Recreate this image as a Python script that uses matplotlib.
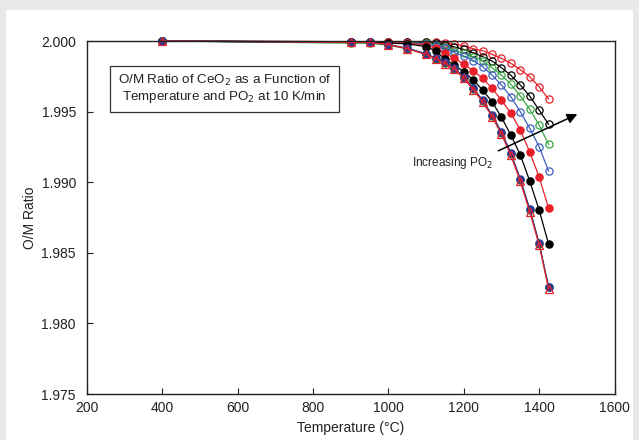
import matplotlib
matplotlib.use("Agg")
import matplotlib.pyplot as plt
from matplotlib.patches import Rectangle

plt.rcParams['font.family'] = ['Liberation Sans', 'DejaVu Sans']

T = [400, 900, 950, 1000, 1050, 1100, 1125, 1150, 1175, 1200, 1225, 1250,
     1275, 1300, 1325, 1350, 1375, 1400, 1425]

red_open = [2.0000, 1.99995, 1.99995, 1.99995, 1.99995, 1.99995, 1.99992, 1.99988,
            1.99977, 1.99967, 1.99945, 1.99931, 1.99906, 1.99877, 1.99842, 1.99797,
            1.99747, 1.99676, 1.99589]
black_open = [2.0000, 1.99995, 1.99995, 1.99995, 1.99993, 1.99990, 1.99985, 1.99975,
              1.99958, 1.99940, 1.99917, 1.99889, 1.99858, 1.99811, 1.99757, 1.99688,
              1.99610, 1.99511, 1.99410]
green_open = [2.0000, 1.99990, 1.99990, 1.99990, 1.99988, 1.99983, 1.99972, 1.99955,
              1.99931, 1.99913, 1.99889, 1.99858, 1.99811, 1.99759, 1.99693, 1.99610,
              1.99516, 1.99405, 1.99268]
blue_open = [2.0000, 1.99992, 1.99992, 1.99990, 1.99987, 1.99980, 1.99967, 1.99948,
             1.99917, 1.99894, 1.99861, 1.99818, 1.99759, 1.99688, 1.99605, 1.99499,
             1.99382, 1.99252, 1.99079]
red_filled = [2.0000, 1.99992, 1.99992, 1.99990, 1.99985, 1.99972, 1.99950, 1.99913,
              1.99877, 1.99835, 1.99790, 1.99736, 1.99665, 1.99582, 1.99488, 1.99370,
              1.99214, 1.99037, 1.98817]
black_filled = [2.0000, 1.99990, 1.99990, 1.99985, 1.99980, 1.99960, 1.99930, 1.99870,
                1.99830, 1.99783, 1.99724, 1.99653, 1.99570, 1.99460, 1.99334, 1.99193,
                1.99008, 1.98803, 1.98562]
green_filled = [2.0000, 1.99985, 1.99985, 1.99970, 1.99945, 1.99905, 1.99875, 1.99845,
                1.99805, 1.99740, 1.99660, 1.99575, 1.99470, 1.99350, 1.99200, 1.99015,
                1.98805, 1.98565, 1.98260]
red_tri = [2.0000, 1.99990, 1.99990, 1.99975, 1.99945, 1.99905, 1.99875, 1.99840,
           1.99800, 1.99735, 1.99655, 1.99570, 1.99465, 1.99340, 1.99190, 1.99005,
           1.98790, 1.98555, 1.98245]
blue_filled = [2.0000, 1.99990, 1.99990, 1.99975, 1.99950, 1.99910, 1.99880, 1.99851,
               1.99809, 1.99745, 1.99667, 1.99582, 1.99476, 1.99356, 1.99207, 1.99023,
               1.98810, 1.98569, 1.98258]

RED = '#e8202a'
BLACK = '#000000'
GREEN = '#3aa845'
BLUE_O = '#3d5fbf'
BLUE_F = '#2b3990'
GREEN_F = '#2e8b3e'

fig = plt.figure(figsize=(6.39, 4.40), dpi=100, facecolor='#e8e8e8')
bg = fig.add_axes([0, 0, 1, 1], zorder=-10)
bg.set_axis_off()
bg.add_patch(Rectangle((6/639, 0), 627/639, 1 - 10/440, transform=bg.transAxes,
                       facecolor='white', edgecolor='none'))
ax = fig.add_axes([87/639, 1 - 394/440, 527.5/639, 353/440], zorder=1)
ax.set_facecolor('white')

series = [
    (red_open, RED, 'o', 'none'),
    (black_open, BLACK, 'o', 'none'),
    (green_open, GREEN, 'o', 'none'),
    (blue_open, BLUE_O, 'o', 'none'),
    (red_filled, RED, 'o', RED),
    (black_filled, BLACK, 'o', BLACK),
    (green_filled, GREEN_F, 'o', GREEN_F),
    (blue_filled, BLUE_F, 'o', BLUE_F),
    (red_tri, RED, '^', 'none'),
]
for vals, col, mk, mfc in series:
    ax.plot(T, vals, color=col, marker=mk, mfc=mfc, mec=col, ms=5.2, lw=0.9, mew=0.9,
            clip_on=False)

ax.set_xlim(200, 1600)
ax.set_ylim(1.975, 2.000)
ax.set_xticks(range(200, 1601, 200))
ax.set_yticks([1.975, 1.980, 1.985, 1.990, 1.995, 2.000])
ax.set_yticklabels(['%.3f' % v for v in [1.975, 1.980, 1.985, 1.990, 1.995, 2.000]])
ax.tick_params(direction='in', length=4, labelsize=10, colors='#222222', width=0.8)
ax.tick_params(axis='y', pad=8)
ax.tick_params(axis='x', pad=5)
for s in ax.spines.values():
    s.set_linewidth(1.0)
    s.set_color('#222222')
ax.set_xlabel('Temperature (°C)', fontsize=10, color='#222222', labelpad=4)
ax.set_ylabel('O/M Ratio', fontsize=10, color='#222222', labelpad=3)

ax.text(0.2607, 0.864, 'O/M Ratio of CeO$_2$ as a Function of\nTemperature and PO$_2$ at 10 K/min',
        transform=ax.transAxes, ha='center', va='center', fontsize=9.6, color='#222222',
        linespacing=1.1,
        bbox=dict(boxstyle='square,pad=0.55', facecolor='white', edgecolor='#333333', lw=0.9))

ax.annotate('', xy=(1508, 1.99490), xytext=(1285, 1.99214),
            arrowprops=dict(arrowstyle='-|>', color='black', lw=1.1, mutation_scale=15))
ax.text(1063, 1.99136, 'Increasing PO$_2$', fontsize=8.5, color='#222222', va='center', ha='left')

fig.savefig('out.png', dpi=100, facecolor=fig.get_facecolor())
